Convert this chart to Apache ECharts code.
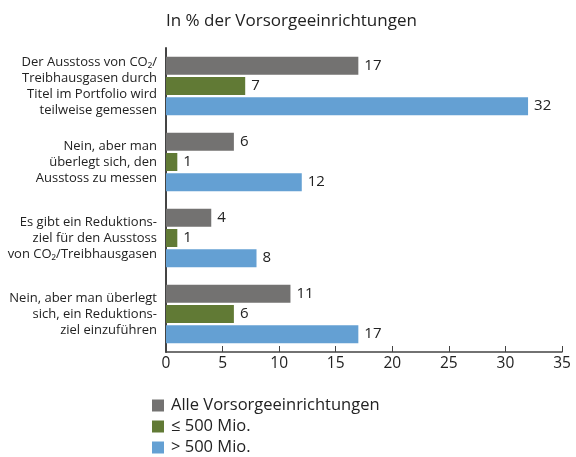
<!DOCTYPE html>
<html>
<head>
<meta charset="utf-8">
<script src="https://cdn.jsdelivr.net/npm/echarts@6/dist/echarts.min.js"></script>
<style>
    html, body { margin: 0; padding: 0; background: #fff; }
    #main { width: 576px; height: 457px; }
</style>
</head>
<body>
<div id="main"></div>
<script>
var categories = [
    'Der Ausstoss von CO₂/\nTreibhausgasen durch\nTitel im Portfolio wird\nteilweise gemessen',
    'Nein, aber man\nüberlegt sich, den\nAusstoss zu messen',
    'Es gibt ein Reduktions-\nziel für den Ausstoss\nvon CO₂/Treibhausgasen',
    'Nein, aber man überlegt\nsich, ein Reduktions-\nziel einzuführen'
]
var seriesNames = ['Alle Vorsorgeeinrichtungen', '≤ 500 Mio.', '> 500 Mio.']
var alle = [17, 6, 4, 11]
var klein = [7, 1, 1, 6]
var gross = [32, 12, 8, 17]
var colors = ['#737271', '#617a35', '#64a0d3']

var font = '"Open Sans", "Noto Sans", sans-serif'
var myChart = echarts.init(document.getElementById('main'))

function bar(name, data, color) {
    return {
        name: name,
        type: 'bar',
        data: data,
        barWidth: 18,
        barGap: '12%',
        itemStyle: { color: color },
        label: {
            show: true,
            position: 'right',
            distance: 6,
            color: '#222',
            fontSize: 15,
            fontFamily: font
        }
    }
}

var option = {
    animation: false,
    textStyle: { fontFamily: font },
    title: {
        text: 'In % der Vorsorgeeinrichtungen',
        left: 161,
        top: 8,
        textStyle: { fontSize: 17, fontWeight: 'normal', color: '#222', fontFamily: font }
    },
    legend: {
        orient: 'vertical',
        left: 152,
        top: 396,
        padding: 0,
        itemWidth: 12,
        itemHeight: 12,
        itemGap: 2,
        icon: 'rect',
        data: seriesNames,
        textStyle: { fontSize: 16.5, lineHeight: 19, color: '#222', fontFamily: font, padding: [0, 0, 0, 2] }
    },
    grid: { left: 166, right: 14, top: 48, bottom: 105 },
    xAxis: {
        type: 'value',
        min: 0,
        max: 35,
        interval: 5,
        splitLine: { show: false },
        axisLine: { show: true, lineStyle: { color: '#444', width: 1.5 } },
        axisTick: { show: true, inside: true, length: 6, lineStyle: { color: '#444' } },
        axisLabel: { color: '#222', fontSize: 15.5, margin: 4, fontFamily: font }
    },
    yAxis: {
        type: 'category',
        inverse: true,
        data: categories,
        axisLine: { show: true, lineStyle: { color: '#444', width: 2 } },
        axisTick: { show: false },
        axisLabel: { color: '#222', fontSize: 13, lineHeight: 16, margin: 9, align: 'right', fontFamily: font }
    },
    series: [
        bar(seriesNames[0], alle, colors[0]),
        bar(seriesNames[1], klein, colors[1]),
        bar(seriesNames[2], gross, colors[2])
    ]
}

myChart.setOption(option)
</script>
</body>
</html>
